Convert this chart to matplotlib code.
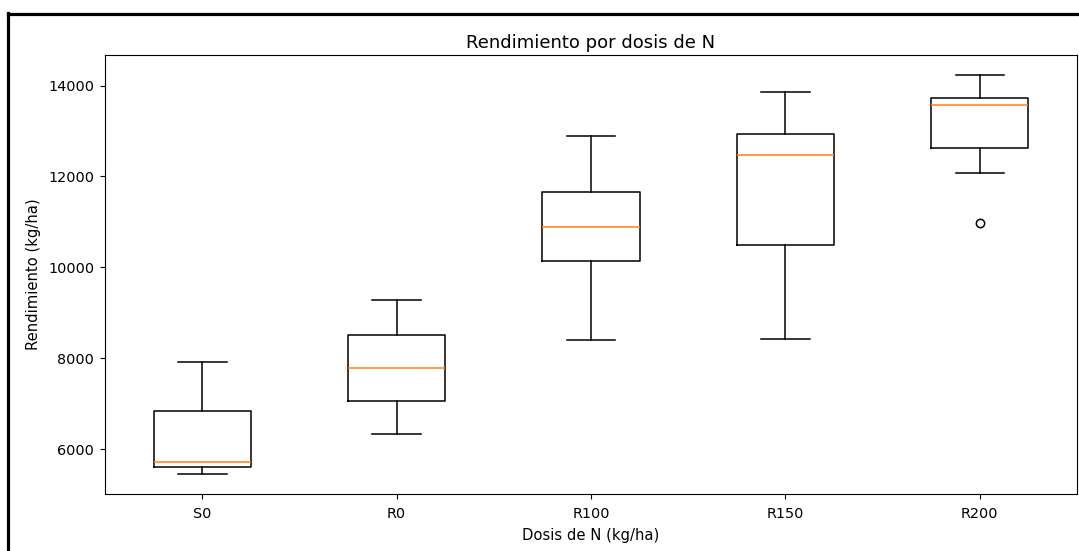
import matplotlib
matplotlib.use("Agg")
import matplotlib.pyplot as plt
from matplotlib.lines import Line2D

# Box statistics (kg/ha)
dosis = ["S0", "R0", "R100", "R150", "R200"]
whislo = [5450, 6330, 8400, 8420, 12070]
q1 = [5600, 7055, 10130, 10490, 12630]
med = [5720, 7780, 10885, 12480, 13570]
q3 = [6830, 8505, 11665, 12925, 13720]
whishi = [7920, 9275, 12900, 13865, 14235]
fliers = [[], [], [], [], [10975]]

W, H = 1079, 551
fig = plt.figure(figsize=(W / 100, H / 100), dpi=100)
ax = fig.add_axes([105 / W, (H - 494) / H, 972 / W, 439 / H])

stats = []
for i, name in enumerate(dosis):
    stats.append({
        "label": name,
        "whislo": whislo[i],
        "q1": q1[i],
        "med": med[i],
        "q3": q3[i],
        "whishi": whishi[i],
        "fliers": fliers[i],
    })

lw = 1.1
ax.bxp(stats,
       boxprops=dict(linewidth=lw),
       whiskerprops=dict(linewidth=lw),
       capprops=dict(linewidth=lw),
       medianprops=dict(linewidth=lw, color="#ff7f0e"),
       flierprops=dict(markeredgewidth=lw))
ax.set_title("Rendimiento por dosis de N", fontsize=13, pad=5)
ax.set_xlabel("Dosis de N (kg/ha)", fontsize=10.6, labelpad=5)
ax.set_ylabel("Rendimiento (kg/ha)", fontsize=10.6, labelpad=5)
ax.tick_params(labelsize=10.4, length=3.7)
ax.tick_params(axis="x", pad=5.5)
ax.tick_params(axis="y", pad=4)

# thick black frame of the screenshot (top and left edges)
fig.add_artist(Line2D([8 / W, 1.0], [1 - 14 / H, 1 - 14 / H], color="black", lw=2.3,
                      transform=fig.transFigure))
fig.add_artist(Line2D([8 / W, 8 / W], [0, 1 - 13 / H], color="black", lw=2.3,
                      transform=fig.transFigure))

fig.savefig("out.png", dpi=100)
